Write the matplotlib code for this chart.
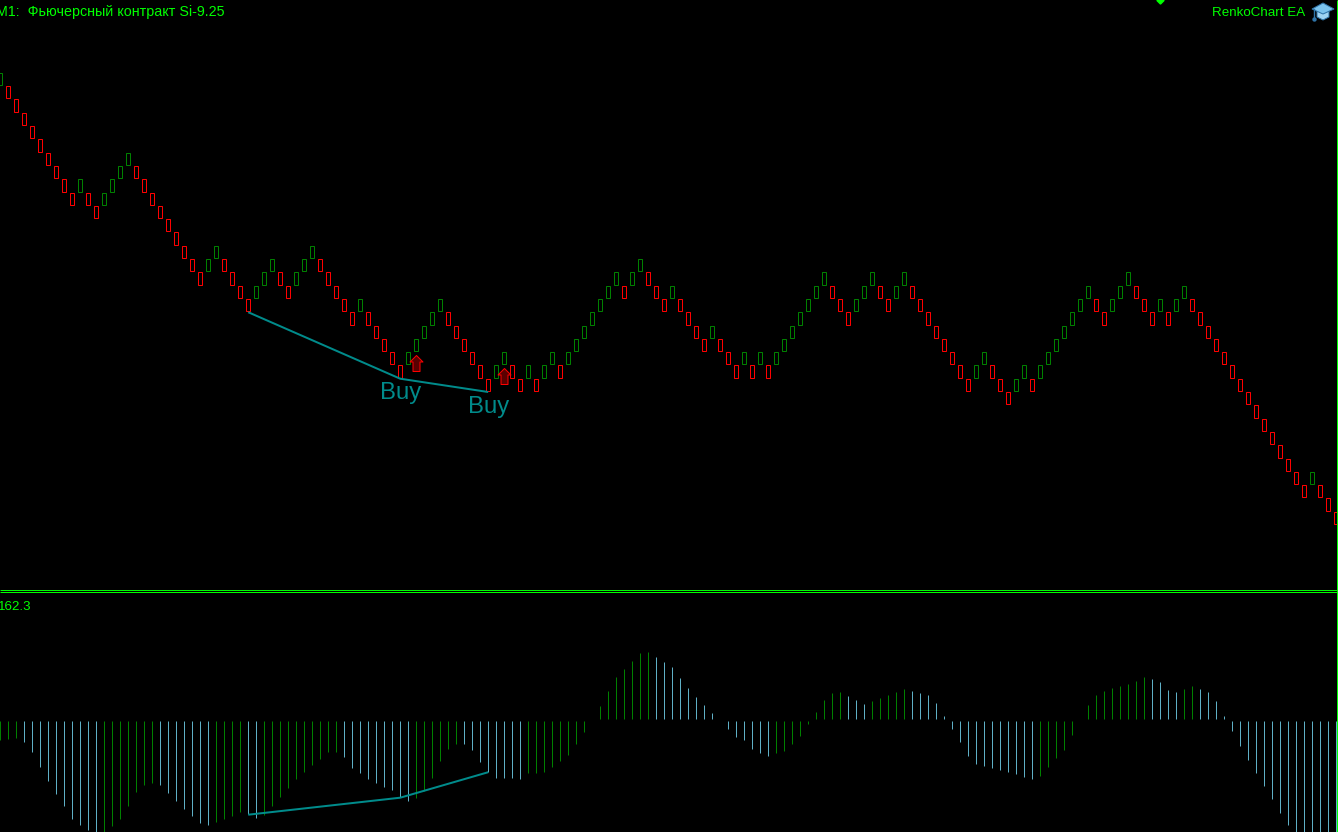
import matplotlib
matplotlib.use("Agg")
import matplotlib.pyplot as plt
from matplotlib.path import Path
from matplotlib.patches import Polygon

# -------------------------------
# Data
# -------------------------------
# renko bricks, level 0 is the highest brick, every brick is one level
brick_level = [
    0, 1, 2, 3, 4, 5, 6, 7, 8, 9,
    8, 9, 10, 9, 8, 7, 6, 7, 8, 9,
    10, 11, 12, 13, 14, 15, 14, 13, 14, 15,
    16, 17, 16, 15, 14, 15, 16, 15, 14, 13,
    14, 15, 16, 17, 18, 17, 18, 19, 20, 21,
    22, 21, 20, 19, 18, 17, 18, 19, 20, 21,
    22, 23, 22, 21, 22, 23, 22, 23, 22, 21,
    22, 21, 20, 19, 18, 17, 16, 15, 16, 15,
    14, 15, 16, 17, 16, 17, 18, 19, 20, 19,
    20, 21, 22, 21, 22, 21, 22, 21, 20, 19,
    18, 17, 16, 15, 16, 17, 18, 17, 16, 15,
    16, 17, 16, 15, 16, 17, 18, 19, 20, 21,
    22, 23, 22, 21, 22, 23, 24, 23, 22, 23,
    22, 21, 20, 19, 18, 17, 16, 17, 18, 17,
    16, 15, 16, 17, 18, 17, 18, 17, 16, 17,
    18, 19, 20, 21, 22, 23, 24, 25, 26, 27,
    28, 29, 30, 31, 30, 31, 32, 33,
]

# oscillator histogram, one value per brick
osc_value = [
    -20, -19, -18, -22, -32, -47, -61, -74, -86, -99,
    -105, -110, -113, -113, -106, -99, -86, -72, -65, -63,
    -65, -73, -81, -89, -96, -103, -105, -102, -99, -96,
    -92, -94, -98, -95, -86, -77, -68, -59, -52, -45,
    -39, -32, -32, -37, -48, -53, -59, -63, -67, -70,
    -77, -81, -78, -71, -58, -41, -29, -24, -24, -30,
    -42, -52, -58, -58, -58, -59, -53, -53, -52, -47,
    -41, -35, -24, -12, -1, 14, 29, 43, 51, 59,
    67, 68, 63, 58, 53, 42, 32, 23, 15, 7,
    -1, -9, -17, -20, -29, -33, -36, -33, -31, -24,
    -16, -4, 8, 20, 27, 28, 24, 20, 16, 19,
    22, 25, 28, 31, 29, 27, 25, 17, 4, -9,
    -22, -36, -44, -46, -48, -50, -52, -54, -57, -59,
    -56, -47, -38, -30, -15, 0, 15, 25, 29, 32,
    34, 36, 39, 43, 41, 38, 30, 28, 31, 34,
    31, 28, 19, 4, -11, -26, -40, -53, -66, -79,
    -93, -105, -114, -118, -118, -116, -116, -116,
]
# G = rising oscillator colour, B = falling oscillator colour
osc_kind = (
    "GGGBBBBBBB" "BBBGGGGGGG" "BBBBBBBGGG" "GBBGGGGGGG"
    "GGGBBBBBBB" "BBGGGGGGBB" "BBBBBBGGGG" "GGGGGGGGGG"
    "GGBBBBBBBB" "BBBBBBBGGG" "GGGGGGBBBG" "GGGGBBBBBB"
    "BBBBBBBBBB" "GGGGGGGGGG" "GGGGBBBBGG" "BBBBBBBBBB"
    "BBBBBBBB"
)

# divergence lines, same bricks in both panes
div_index = [31, 50, 61]
div_price_level = [18, 23, 24]
div_osc_value = [-94.5, -77.5, -52]

buy_index = [50, 61]
buy_level = [23, 24]
arrow_index = [52, 63]
arrow_level = [21.85, 22.83]

title_left = "M1:  Фьючерсный контракт Si-9.25"
title_right = "RenkoChart EA"
osc_label = "162.3"

# -------------------------------
# Colours
# -------------------------------
UP_COL = "#008000"
DOWN_COL = "#ff0000"
FALL_COL = "#5fb0c6"
TEAL = "#008b8b"
LIME = "#00ff00"

W, H = 1338, 832
PX = 0.72  # one pixel in points at dpi 100

plt.rcParams["font.family"] = ["Liberation Sans", "DejaVu Sans"]

fig = plt.figure(figsize=(W / 100, H / 100), dpi=100, facecolor="black")


def pane(top, bottom):
    ax = fig.add_axes([0, 1 - bottom / H, 1, (bottom - top) / H])
    ax.set_facecolor("black")
    ax.axis("off")
    ax.set_xlim(-0.025, 167.225)
    return ax


# -------------------------------
# Renko pane
# -------------------------------
ax = pane(0, 590)
ax.set_ylim(38.887, -5.474)

x = list(range(len(brick_level)))
colors = [UP_COL]
for i in x[1:]:
    colors.append(UP_COL if brick_level[i] < brick_level[i - 1] else DOWN_COL)

ax.bar(x, 0.93, bottom=brick_level, width=0.5, facecolor="none",
       edgecolor=colors, linewidth=PX)

ax.plot(div_index, div_price_level, color=TEAL, linewidth=2 * PX,
        solid_capstyle="butt", zorder=4)

for i, lv in zip(buy_index, buy_level):
    ax.annotate("Buy", xy=(i, lv), xytext=(0, -20.7 * PX),
                textcoords="offset points", ha="center", va="baseline",
                color=TEAL, fontsize=17.2, family="Liberation Sans")

arrow_path = Path([(0, 8), (6.5, 1.5), (3.5, 1.5), (3.5, -8), (-3.5, -8),
                   (-3.5, 1.5), (-6.5, 1.5), (0, 8)], closed=True)
ax.plot(arrow_index, arrow_level, linestyle="none", marker=arrow_path,
        markersize=16 * PX, markerfacecolor="#5a0000", markeredgecolor=DOWN_COL,
        markeredgewidth=PX, zorder=5)

# -------------------------------
# Oscillator pane
# -------------------------------
ax2 = pane(593, 832)
ax2.set_ylim(-111.8, 127.2)

for kind, col in (("G", UP_COL), ("B", FALL_COL)):
    xs = [i for i in x if osc_kind[i] == kind and osc_value[i] != 0]
    ys = [osc_value[i] for i in xs]
    # small gap around the zero row, as in the terminal
    base = [0.8 if v > 0 else -0.7 for v in ys]
    ax2.vlines(xs, base, ys, color=col, linewidth=PX)

ax2.plot(div_index, div_osc_value, color=TEAL, linewidth=2 * PX,
         solid_capstyle="butt", zorder=4)

# -------------------------------
# Window furniture, in pixel coordinates
# -------------------------------
ov = fig.add_axes([0, 0, 1, 1], facecolor="none")
ov.axis("off")
ov.set_xlim(0, W)
ov.set_ylim(H, 0)

ov.hlines([590.2, 592.2], 0, W, color=LIME, linewidth=PX)
ov.vlines([1337.2], 0, H, color=LIME, linewidth=PX)

ov.text(-4, 16, title_left, color=LIME, fontsize=10.3, va="baseline", ha="left")
ov.text(1212.5, 16, title_right, color=LIME, fontsize=9.6, va="baseline", ha="left")
ov.text(-2, 610, osc_label, color=LIME, fontsize=9.6, va="baseline", ha="left")

ov.plot([1160], [0], marker="D", markersize=5 * PX, color=LIME, linestyle="none", clip_on=True)

# graduation cap
ov.add_patch(Polygon([(1317, 11), (1317, 17), (1323, 20), (1329, 17), (1329, 11)],
                     closed=True, facecolor="#9fd4f2", edgecolor="#2f74a8", linewidth=PX))
ov.add_patch(Polygon([(1312, 9), (1323, 3), (1334, 9), (1323, 14)],
                     closed=True, facecolor="#7cc4ee", edgecolor="#2f74a8", linewidth=PX))
ov.plot([1313.5, 1313.5], [9, 17], color="#2f74a8", linewidth=1.4 * PX)
ov.plot([1313.5], [18.5], marker="o", markersize=3 * PX, color="#2f74a8")

fig.savefig("out.png", dpi=100, facecolor="black")
